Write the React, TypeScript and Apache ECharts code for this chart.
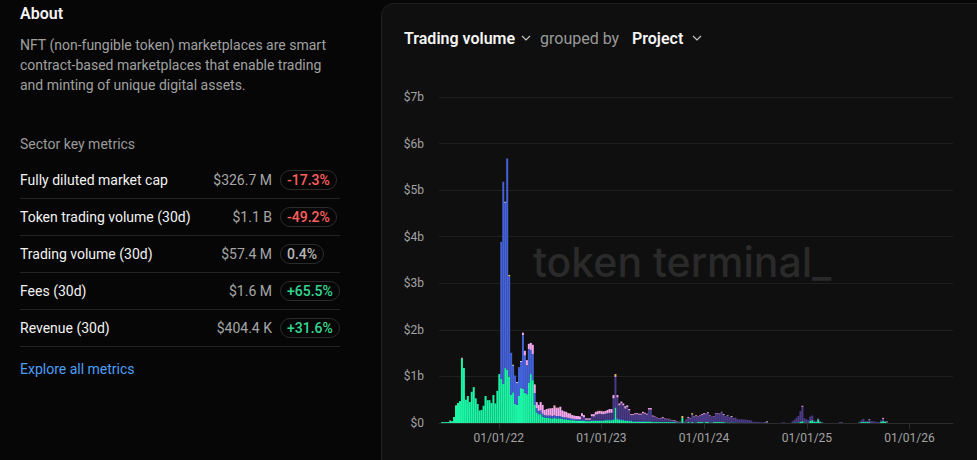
import React, { useEffect, useRef } from 'react';
import * as echarts from 'echarts';

// Weekly buckets: the first one starts Monday 14 June 2021.
const FIRST_WEEK = [2021, 5, 14];
const WEEKS = 227;

// Weekly trading volume in $ billions. Each list starts at its week index.
const openseaStart = 0;
const opensea = [
  0.02, 0.02, 0.02, 0.02, 0.04, 0.04, 0.13, 0.37, 0.43, 0.47,
  1.38, 1.18, 0.50, 0.58, 0.45, 0.67, 0.77, 0.53, 0.41, 0.27,
  0.28, 0.37, 0.58, 0.49, 0.49, 0.43, 0.60, 0.42, 0.69, 1.05,
  0.95, 0.84, 1.18, 1.14, 1.00, 0.60, 0.66, 0.41, 0.39, 0.58,
  0.75, 0.73, 0.65, 0.62, 0.87, 1.05, 0.92, 0.39, 0.23, 0.19,
  0.19, 0.14, 0.12, 0.11, 0.11, 0.10, 0.10, 0.11, 0.10, 0.10,
  0.10, 0.09, 0.08, 0.08, 0.07, 0.06, 0.06, 0.06, 0.05, 0.05,
  0.05, 0.05, 0.05, 0.04, 0.04, 0.04, 0.05, 0.05, 0.05, 0.05,
  0.05, 0.05, 0.05, 0.06, 0.06, 0.06, 0.06, 0.07, 0.33, 0.08,
  0.07, 0.06, 0.06, 0.05, 0.05, 0.04, 0.04, 0.03, 0.03, 0.03,
  0.03, 0.03, 0.03, 0.03, 0.03, 0.03, 0.03, 0.02, 0.02, 0.02,
  0.02, 0.02, 0.02, 0.02, 0.02, 0.02, 0.02, 0.02, 0.02, 0.01,
  0.01, 0.01, 0.11, 0.01, 0.01, 0.02, 0.01, 0.02, 0.01, 0.01,
  0.02, 0.02, 0.02, 0.01, 0.02, 0.02, 0.01, 0.01, 0.02, 0.02,
  0.02, 0.02, 0.02, 0.02, 0.01, 0.01, 0.01, 0.01, 0.01, 0.005,
  0.005, 0.005, 0.005, 0.005, 0.005, 0.005, 0.005, 0.005, 0.005, 0.005,
  0.005, 0, 0, 0, 0, 0.005, 0, 0, 0, 0,
  0, 0, 0, 0, 0, 0, 0, 0, 0, 0.01,
  0.01, 0.01, 0.03, 0.04, 0.01, 0.01, 0.01, 0.05, 0.06, 0.03,
  0.02, 0.08, 0.02, 0.01, 0, 0, 0, 0, 0, 0,
  0, 0, 0.005, 0.005, 0, 0, 0, 0, 0, 0,
  0, 0, 0.01, 0.02, 0.02, 0.02, 0.02, 0.02, 0, 0,
  0.005, 0.005, 0.005, 0.03, 0.04, 0.03, 0.01,
];

const looksrareStart = 30;
const looksrare = [
  2.94, 4.34, 3.55, 4.54, 2.15, 0.91, 0.57, 0.61, 0.47, 0.62,
  0.56, 1.16, 0.80, 0.62, 0.72, 0.52, 0.56, 0.25, 0.09, 0.07,
  0.08, 0.06, 0.05, 0.05, 0.05, 0.06, 0.05, 0.06, 0.05, 0.05,
  0.05, 0.04, 0.04, 0.04, 0.04, 0.04, 0.03, 0.03, 0.03, 0.03,
  0.03, 0.03, 0.03, 0.02, 0.02, 0.02, 0.02, 0.02, 0.02, 0.02,
  0.02, 0.02, 0.02, 0.02, 0.02, 0.02, 0.02, 0.03, 0.03, 0.03,
  0.03, 0.03, 0.02, 0.02, 0.02, 0.02, 0.02, 0.02, 0.02, 0.02,
  0.02, 0.02, 0.02, 0.02, 0.01, 0.01, 0.01, 0.01, 0.01, 0.01,
  0.01, 0.01, 0.01, 0.01, 0.01, 0.01, 0.01, 0.01, 0.01, 0.01,
  0.005, 0.005,
];

const blurStart = 71;
const blur = [
  0.07, 0.04, 0.01, 0.01, 0.01, 0.08, 0.07, 0.11, 0.12, 0.13,
  0.12, 0.12, 0.12, 0.13, 0.14, 0.14, 0.43, 0.63, 0.44, 0.28,
  0.33, 0.30, 0.24, 0.27, 0.21, 0.11, 0.12, 0.14, 0.14, 0.13,
  0.13, 0.16, 0.15, 0.14, 0.25, 0.25, 0.11, 0.10, 0.08, 0.06,
  0.06, 0.08, 0.06, 0.05, 0.05, 0.03, 0.02, 0.02, 0.01, 0.01,
  0.01, 0, 0.01, 0.05, 0.09, 0.08, 0.16, 0.12, 0.14, 0.11,
  0.14, 0.15, 0.18, 0.17, 0.19, 0.15, 0.12, 0.11, 0.18, 0.18,
  0.17, 0.21, 0.15, 0.13, 0.14, 0.11, 0.12, 0.09, 0.10, 0.08,
  0.07, 0.08, 0.07, 0.07, 0.06, 0.06, 0.05, 0.02, 0.02, 0.02,
  0.02, 0.015, 0.015, 0.015, 0.01, 0, 0, 0, 0, 0,
  0, 0, 0.015, 0.01, 0, 0, 0, 0.04, 0.06, 0.10,
  0.14, 0.21, 0.31, 0.09, 0.07, 0.05, 0.09, 0.10, 0.03, 0.02,
  0.02, 0.02, 0.01, 0, 0, 0, 0, 0, 0, 0,
  0, 0.015, 0.015, 0, 0, 0, 0, 0, 0, 0,
  0, 0.02, 0.04, 0.07, 0.02, 0.02, 0.05, 0.04, 0.04, 0.02,
  0.02, 0.015, 0.03, 0.05, 0.01, 0.01,
];

const x2y2Start = 41;
const x2y2 = [
  0.05, 0.10, 0.11, 0.11, 0.15, 0.20, 0.18, 0.13, 0.13,
  0.18, 0.19, 0.11, 0.14, 0.15, 0.15, 0.17, 0.20, 0.18, 0.17,
  0.20, 0.14, 0.13, 0.12, 0.10, 0.10, 0.08, 0.07, 0.07, 0.07,
  0.06, 0.06, 0.05, 0.03, 0.03, 0.03, 0.04, 0.05, 0.06, 0.06,
  0.06, 0.06, 0.06, 0.06, 0.07, 0.08, 0.08, 0.07, 0.02, 0.05,
  0.04, 0.04, 0.04, 0.03, 0.04, 0.03, 0.02, 0.02, 0.02, 0.02,
  0.02, 0.02, 0.03, 0.02, 0.02, 0.03, 0.03, 0.02, 0.01, 0.01,
  0.01, 0.01, 0.02, 0.01, 0.01, 0.01, 0.01, 0.01, 0.015, 0.01,
  0.005, 0.005, 0, 0.005, 0.01, 0.02, 0.01, 0.01, 0.01, 0.01,
  0.01, 0.01, 0.02, 0.02, 0.01, 0.02, 0.01, 0.005, 0.01, 0.01,
  0.01, 0.01, 0.01, 0.02, 0.005, 0.005, 0.005, 0.02, 0.005, 0.005,
  0, 0, 0, 0, 0, 0, 0, 0, 0, 0,
  0, 0, 0, 0, 0.005, 0.01, 0, 0, 0, 0,
  0, 0, 0, 0, 0, 0, 0, 0, 0, 0,
  0, 0, 0.005, 0.02, 0, 0, 0, 0, 0, 0,
  0, 0, 0, 0, 0, 0, 0, 0, 0, 0,
  0, 0, 0, 0, 0, 0, 0, 0, 0, 0,
  0, 0, 0, 0, 0, 0, 0, 0, 0, 0,
  0, 0, 0, 0, 0.02, 0, 0,
];

// Smaller venues: [week index, $ billions]
const magicEden: [number, number][] = [
  [34, 0.03], [55, 0.01], [57, 0.01], [59, 0.01], [65, 0.01], [79, 0.01],
  [81, 0.01], [88, 0.04], [122, 0.04], [127, 0.02], [129, 0.01],
];
const rarible: [number, number][] = [
  [4, 0.01], [7, 0.01], [10, 0.02], [32, 0.02], [36, 0.02], [38, 0.02],
  [40, 0.02], [47, 0.01], [93, 0.02], [145, 0.01], [165, 0.01], [217, 0.01], [226, 0.01],
];

const yTickValues = [0, 1, 2, 3, 4, 5, 6, 7];

// Left panel content
const aboutLines = [
  'NFT (non-fungible token) marketplaces are smart',
  'contract-based marketplaces that enable trading',
  'and minting of unique digital assets.',
];
const metricLabels = [
  'Fully diluted market cap',
  'Token trading volume (30d)',
  'Trading volume (30d)',
  'Fees (30d)',
  'Revenue (30d)',
];
const metricValues = ['$326.7 M', '$1.1 B', '$57.4 M', '$1.6 M', '$404.4 K'];
const metricChanges = [-17.3, -49.2, 0.4, 65.5, 31.6];

const FONT = 'Roboto';
const DAY = 24 * 3600 * 1000;

const weekDates = Array.from({ length: WEEKS }, (_, i) =>
  new Date(FIRST_WEEK[0], FIRST_WEEK[1], FIRST_WEEK[2] + 7 * i).getTime()
);

const fromOffset = (start: number, vals: number[]) =>
  Array.from({ length: WEEKS }, (_, i) => {
    const k = i - start;
    return k >= 0 && k < vals.length ? vals[k] : 0;
  });

const fromPairs = (pairs: [number, number][]) => {
  const out = new Array(WEEKS).fill(0);
  pairs.forEach(([i, v]) => { out[i] = v; });
  return out;
};

const pad2 = (n: number) => String(n).padStart(2, '0');
const fmtDate = (v: number) => {
  const d = new Date(v);
  if (d.getMonth() !== 0 || d.getDate() !== 1) return '';
  return `${pad2(d.getMonth() + 1)}/${pad2(d.getDate())}/${String(d.getFullYear()).slice(2)}`;
};

let measureCtx: CanvasRenderingContext2D | null = null;
const measure = (text: string, font: string) => {
  if (!measureCtx) measureCtx = document.createElement('canvas').getContext('2d');
  if (!measureCtx) return text.length * 8;
  measureCtx.font = font;
  return measureCtx.measureText(text).width;
};

const text = (
  x: number, y: number, t: string, size: number, weight: number | string, fill: string,
  align: string = 'left', family: string = FONT, z = 5
) => ({
  type: 'text', x, y, z, silent: true,
  style: {
    text: t, fill, fontSize: size, fontWeight: weight, fontFamily: family,
    textAlign: align, textVerticalAlign: 'middle', align, verticalAlign: 'middle',
  },
});

function buildGraphic() {
  const els: any[] = [];
  // chart card
  els.push({
    type: 'rect', z: -10, silent: true,
    shape: { x: 381.5, y: 3.5, width: 700, height: 520, r: 12 },
    style: { fill: '#0f0f0f', stroke: '#1f1f1f', lineWidth: 1 },
  });

  // About block
  els.push(text(20, 13, 'About', 16, 600, '#f4f4f4'));
  aboutLines.forEach((l, i) => els.push(text(20, 45 + i * 20, l, 14, 400, '#a0a0a0')));
  els.push(text(20, 144, 'Sector key metrics', 14, 400, '#9a9a9a'));

  const rowY = [180, 217, 254, 291, 328];
  metricLabels.forEach((label, i) => {
    const y = rowY[i];
    els.push(text(20, y, label, 14, 400, '#f2f2f2'));
    els.push(text(272, y, metricValues[i], 14, 400, '#a6a6a6', 'right'));
    const c = metricChanges[i];
    const tone = c <= -1 ? '#ff5f5f' : c >= 1 ? '#33d68f' : '#b8b8b8';
    const label2 = `${c >= 1 ? '+' : ''}${c.toFixed(1)}%`;
    const w = measure(label2, `500 14px ${FONT}`) + 13;
    els.push({
      type: 'rect', z: 4, silent: true,
      shape: { x: 280.5, y: y - 9.5, width: Math.round(w), height: 19, r: 9.5 },
      style: { fill: 'none', stroke: '#2b2b2b', lineWidth: 1 },
    });
    els.push(text(287, y, label2, 14, 500, tone));
    els.push({
      type: 'line', z: 4, silent: true,
      shape: { x1: 20, y1: y + 18.5, x2: 340, y2: y + 18.5 },
      style: { stroke: '#222222', lineWidth: 1 },
    });
  });
  els.push(text(20, 369, 'Explore all metrics', 14, 400, '#4c9ef7'));

  // Chart header
  els.push(text(404, 38, 'Trading volume', 16, 600, '#f4f4f4'));
  els.push({
    type: 'polyline', z: 5, silent: true,
    shape: { points: [[522, 36], [526, 40], [530, 36]] },
    style: { stroke: '#c4c4c4', lineWidth: 1.2, fill: 'none' },
  });
  els.push(text(540, 38, 'grouped by', 16, 400, '#9a9a9a'));
  els.push(text(632, 38, 'Project', 16, 600, '#f4f4f4'));
  els.push({
    type: 'polyline', z: 5, silent: true,
    shape: { points: [[693, 36], [697, 40], [701, 36]] },
    style: { stroke: '#c4c4c4', lineWidth: 1.2, fill: 'none' },
  });

  // Watermark
  els.push(text(533, 262, 'token terminal_', 41, 500, '#2a2a2a', 'left', 'Inter', 1));
  return els;
}

function buildOption() {
  const bar = (name: string, color: string, vals: number[]) => ({
    name,
    type: 'bar',
    stack: 'volume',
    barWidth: 2,
    silent: true,
    itemStyle: { color },
    data: vals.map((v, i) => [weekDates[i], v]),
  });

  return {
    animation: false,
    backgroundColor: '#060606',
    textStyle: { fontFamily: FONT },
    grid: { left: 439, right: 24, top: 97, bottom: 37 },
    xAxis: {
      type: 'time',
      min: new Date(2021, 5, 6).getTime(),
      max: new Date(2026, 5, 1).getTime(),
      minInterval: 365 * DAY,
      maxInterval: 366 * DAY,
      splitLine: { show: false },
      axisLine: { show: true, lineStyle: { color: '#2c2c2c', width: 1 } },
      axisTick: { show: true, length: 6, lineStyle: { color: '#2c2c2c' } },
      axisLabel: {
        color: '#a3a3a3', fontSize: 12, fontFamily: FONT, margin: 9,
        formatter: fmtDate, showMinLabel: false, showMaxLabel: false, hideOverlap: false,
      },
    },
    yAxis: {
      type: 'value',
      min: yTickValues[0],
      max: yTickValues[yTickValues.length - 1],
      interval: 1,
      axisLine: { show: false },
      axisTick: { show: false },
      splitLine: { lineStyle: { color: '#1f1f1f', width: 1 } },
      axisLabel: {
        color: '#a3a3a3', fontSize: 12, fontFamily: FONT, margin: 15,
        formatter: (v: number) => (v === 0 ? '$0' : `$${v}b`),
      },
    },
    graphic: buildGraphic(),
    series: [
      bar('OpenSea', '#1cf5a6', fromOffset(openseaStart, opensea)),
      bar('LooksRare', '#4462d8', fromOffset(looksrareStart, looksrare)),
      bar('Blur', '#4a3a88', fromOffset(blurStart, blur)),
      bar('X2Y2', '#f4a6ee', fromOffset(x2y2Start, x2y2)),
      bar('Magic Eden', '#e9c35a', fromPairs(magicEden)),
      bar('Rarible', '#d5def5', fromPairs(rarible)),
    ],
  };
}

export default function App() {
  const ref = useRef<HTMLDivElement>(null);
  useEffect(() => {
    if (!ref.current) return;
    const chart = echarts.init(ref.current, null, { renderer: 'svg' });
    chart.setOption(buildOption() as any);
    return () => chart.dispose();
  }, []);
  return (
    <div
      ref={ref}
      style={{ position: 'fixed', left: 0, top: 0, width: 977, height: 460 }}
    />
  );
}
